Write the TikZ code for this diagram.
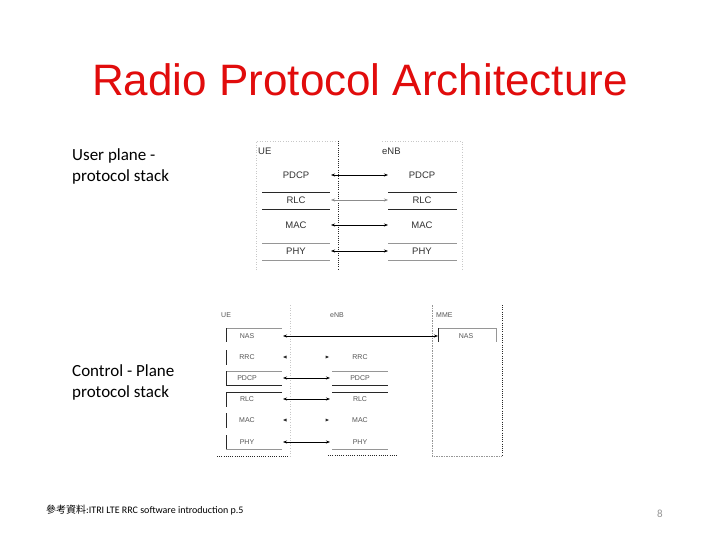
\documentclass[tikz,border=0pt]{standalone}
\usepackage{fontspec}
\setmainfont{Liberation Sans}
\newfontfamily\arialf{Liberation Sans}
\newfontfamily\calibrif{Carlito}
\newfontfamily\cjkf{Noto Sans CJK TC}
\usetikzlibrary{arrows.meta}
\definecolor{titlered}{RGB}{225,12,12}
\definecolor{txtA}{RGB}{50,50,50}
\definecolor{txtB}{RGB}{85,85,85}
\definecolor{lnA}{RGB}{40,40,40}
\definecolor{lnB}{RGB}{150,150,150}
\definecolor{lnC}{RGB}{200,200,200}
\tikzset{
  ulab/.style={font=\arialf\fontsize{9.5}{10}\selectfont, text=txtA, inner sep=0pt},
  llab/.style={font=\arialf\fontsize{7}{8}\selectfont, text=txtB, inner sep=0pt},
  side/.style={font=\calibrif\fontsize{17}{21}\selectfont, align=left, anchor=base west, inner sep=0pt},
  dark/.style={draw=lnA, line width=0.8pt},
  light/.style={draw=lnB, line width=0.8pt},
  faint/.style={draw=lnC, line width=0.6pt, dotted},
  dotA/.style={draw=lnA, line width=0.6pt, dash pattern=on 1pt off 1.2pt},
  dotB/.style={draw=lnB, line width=0.6pt, dash pattern=on 1.5pt off 1pt},
  biarrow/.style={draw=black, line width=0.7pt, {Stealth[length=4pt,width=3pt]}-{Stealth[length=4pt,width=3pt]}},
  tip/.style={fill=lnA},
}
\begin{document}
\begin{tikzpicture}[x=1pt,y=-1pt]
\useasboundingbox (0,0) rectangle (720,540);
\fill[white] (0,0) rectangle (720,540);

% Title
\node[font=\arialf\fontsize{44}{45}\selectfont, text=titlered, inner sep=0pt] (title) at (360,80) {Radio Protocol Architecture};

% Side labels
\node[side] (uplbl) at (72,182) {User plane -\\protocol stack};
\node[side] (cplbl) at (72,397) {Control - Plane\\protocol stack};

% Footer
\node[anchor=west, inner sep=0pt, font=\fontsize{10}{11}\selectfont] (foot) at (46,510) {{\cjkf 參考資料}{\calibrif :ITRI LTE RRC software introduction p.5}};
\node[inner sep=0pt, font=\calibrif\fontsize{11}{12}\selectfont, text=lnB] (pnum) at (660,514) {8};

% ===== User plane figure =====
\draw[faint] (256,270) -- (256,141) -- (338,141);
\draw[dotA] (338,141) -- (338,270);
\draw[faint] (382,141) -- (462,141) -- (462,270);
\node[ulab, anchor=west] (ue1) at (258,151) {UE};
\node[ulab, anchor=west] (enb1) at (382,151) {eNB};

\node[ulab] (upd) at (296,175) {PDCP};
\node[ulab] (url) at (296,200) {RLC};
\node[ulab] (uma) at (296,225) {MAC};
\node[ulab] (uph) at (296,251) {PHY};
\node[ulab] (epd) at (422,175) {PDCP};
\node[ulab] (erl) at (422,200) {RLC};
\node[ulab] (ema) at (422,225) {MAC};
\node[ulab] (eph) at (422,251) {PHY};

\draw[dark] (262,192) -- (330,192);
\draw[dark] (262,209) -- (330,209);
\draw[light] (262,243) -- (330,243);
\draw[light] (262,260) -- (330,260);
\draw[dark] (388,192) -- (457,192);
\draw[dark] (388,209) -- (457,209);
\draw[light] (388,243) -- (457,243);
\draw[light] (388,260) -- (457,260);

\coordinate (a1l) at (331,175); \coordinate (a1r) at (388,175);
\coordinate (a2l) at (331,200); \coordinate (a2r) at (388,200);
\coordinate (a3l) at (331,225); \coordinate (a3r) at (388,225);
\coordinate (a4l) at (331,251); \coordinate (a4r) at (388,251);
\draw[biarrow] (a1l) -- (a1r);
\draw[biarrow, draw=gray!90] (a2l) -- (a2r);
\draw[biarrow] (a3l) -- (a3r);
\draw[biarrow] (a4l) -- (a4r);

% ===== Control plane figure =====
\node[llab, anchor=west] (ue2) at (221,315) {UE};
\node[llab, anchor=west] (enb2) at (330,315) {eNB};
\node[llab, anchor=west] (mme2) at (436,315) {MME};

\node[llab] (cnas) at (247,336) {NAS};
\node[llab] (crrc) at (247,357) {RRC};
\node[llab] (cpd) at (247,378) {PDCP};
\node[llab] (crl) at (247,399) {RLC};
\node[llab] (cma) at (247,420) {MAC};
\node[llab] (cph) at (247,442) {PHY};

\node[llab] (drrc) at (360,357) {RRC};
\node[llab] (dpd) at (360,378) {PDCP};
\node[llab] (drl) at (360,399) {RLC};
\node[llab] (dma) at (360,420) {MAC};
\node[llab] (dph) at (360,442) {PHY};

\node[llab] (mnas) at (466,336) {NAS};

% UE layer borders
\draw[light] (226,328) -- (282,328);
\draw[dark] (226,328) -- (226,342);
\draw[dark] (226,350) -- (226,365);
\draw[light] (226,371) -- (282,371);
\draw[dark] (226,371) -- (226,385) -- (282,385);
\draw[dark] (282,392) -- (226,392) -- (226,407);
\draw[dark] (226,413) -- (226,428);
\draw[dark] (226,435) -- (226,449);
\draw[light] (226,449) -- (282,449);
\draw[dotA] (217,456) -- (288,456);
\draw[faint] (290,305) -- (290,456);

% eNB layer borders
\draw[light] (332,371) -- (388,371);
\draw[dark] (332,385) -- (388,385);
\draw[dark] (332,392) -- (388,392);
\draw[light] (332,449) -- (388,449);
\draw[dotA] (328,455) -- (397,455);

% MME
\draw[dotB] (432,305) -- (432,456) -- (502,456);
\draw[dotA] (502,305) -- (502,456);
\draw[light] (438,328) -- (496,328) -- (496,342);
\draw[dark] (438,328) -- (438,342);

% Arrows
\coordinate (n1) at (283,336); \coordinate (n2) at (438,336);
\coordinate (p1) at (283,378); \coordinate (p2) at (330,378);
\coordinate (r1) at (283,399); \coordinate (r2) at (330,399);
\coordinate (h1) at (283,442); \coordinate (h2) at (330,442);
\draw[biarrow] (n1) -- (n2);
\draw[biarrow] (p1) -- (p2);
\draw[biarrow] (r1) -- (r2);
\draw[biarrow] (h1) -- (h2);
% arrowheads only (RRC, MAC)
\coordinate (rr1) at (283,357); \coordinate (rr2) at (329,357);
\coordinate (mm1) at (283,420); \coordinate (mm2) at (329,420);
\fill[tip] (rr1) -- ++(3.5,-1.5) -- ++(0,3) -- cycle;
\fill[tip] (rr2) -- ++(-3.5,-1.5) -- ++(0,3) -- cycle;
\fill[tip] (mm1) -- ++(3.5,-1.5) -- ++(0,3) -- cycle;
\fill[tip] (mm2) -- ++(-3.5,-1.5) -- ++(0,3) -- cycle;
\end{tikzpicture}
\end{document}
